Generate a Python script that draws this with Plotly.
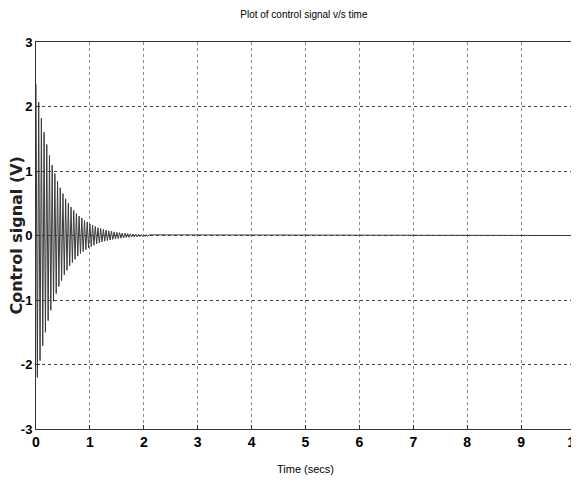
import plotly.graph_objects as go

# Peak values of the control signal, one every 0.025 s
peak_step = 0.025
peaks = [
    2.35, -2.20, 2.07, -1.94, 1.82, -1.71, 1.60, -1.50, 1.41, -1.32,
    1.24, -1.16, 1.09, -1.02, 0.96, -0.90, 0.84, -0.79, 0.74, -0.70,
    0.65, -0.61, 0.57, -0.54, 0.50, -0.47, 0.44, -0.42, 0.39, -0.37,
    0.34, -0.32, 0.30, -0.28, 0.27, -0.25, 0.23, -0.22, 0.21, -0.19,
    0.18, -0.17, 0.16, -0.15, 0.14, -0.13, 0.12, -0.115, 0.108, -0.101,
    0.095, -0.089, 0.084, -0.078, 0.073, -0.069, 0.065, -0.061, 0.057, -0.053,
    0.050, -0.047, 0.044, -0.041, 0.038, -0.036, 0.034, -0.032, 0.030, -0.028,
    0.026, -0.024, 0.023, -0.021, 0.020, -0.019, 0.018, -0.016, 0.015, -0.014,
    0.013, -0.013, 0.012, -0.011, 0.010,
]
t_end = 10.0
final_value = 0.0

time = [round(i * peak_step, 4) for i in range(len(peaks))] + [t_end]
signal = peaks + [final_value]

x_ticks = [0, 1, 2, 3, 4, 5, 6, 7, 8, 9, 10]
y_ticks = [-3, -2, -1, 0, 1, 2, 3]

fig = go.Figure()
fig.add_trace(go.Scatter(
    x=time, y=signal, mode="lines",
    line=dict(color="#3a3a3a", width=1),
    showlegend=False,
))

narrow = "Liberation Sans Narrow, Arial Narrow, Liberation Sans, Arial"
# page has an 8px body margin, so the figure is sized to the visible area
fig.update_layout(
    width=571, height=475,
    margin=dict(l=28, r=4, t=34, b=54),
    paper_bgcolor="white", plot_bgcolor="white",
    title=dict(text="Plot of control signal v/s time", xref="paper", x=0.497,
               xanchor="center", y=0.987, yanchor="middle",
               font=dict(family=narrow, size=10, color="black")),
    font=dict(family=narrow, color="black"),
    annotations=[dict(
        text="Control signal (V)", textangle=-90,
        xref="paper", yref="paper", x=-0.0371, y=0.5,
        xanchor="center", yanchor="middle", showarrow=False,
        font=dict(family="DejaVu Sans, Liberation Sans, Arial", size=16, color="#222", weight="bold"),
    )],
)
fig.update_xaxes(
    range=[0, 10], tickvals=x_ticks, ticktext=[str(v) for v in x_ticks],
    showgrid=True, gridcolor="#888", griddash="dot", gridwidth=1,
    showline=True, linecolor="#333", linewidth=1, mirror=True,
    ticks="inside", ticklen=4, tickcolor="#333",
    tickfont=dict(family=narrow, size=14, color="black", weight="bold"),
    ticklabeloverflow="allow", ticklabelstandoff=0,
    zeroline=False, automargin=False,
    title=dict(text="Time (secs)", standoff=16,
               font=dict(family=narrow, size=11, color="black")),
)
fig.update_yaxes(
    range=[-3, 3], tickvals=y_ticks, ticktext=[str(v) for v in y_ticks],
    showgrid=True, gridcolor="#444", griddash="dot", gridwidth=1,
    showline=True, linecolor="#333", linewidth=1, mirror=True,
    ticks="inside", ticklen=4, tickcolor="#333",
    tickfont=dict(family=narrow, size=13, color="black", weight="bold"),
    ticklabeloverflow="allow", ticklabelstandoff=0,
    zeroline=False, automargin=False,
)

fig.write_html("out.html")
